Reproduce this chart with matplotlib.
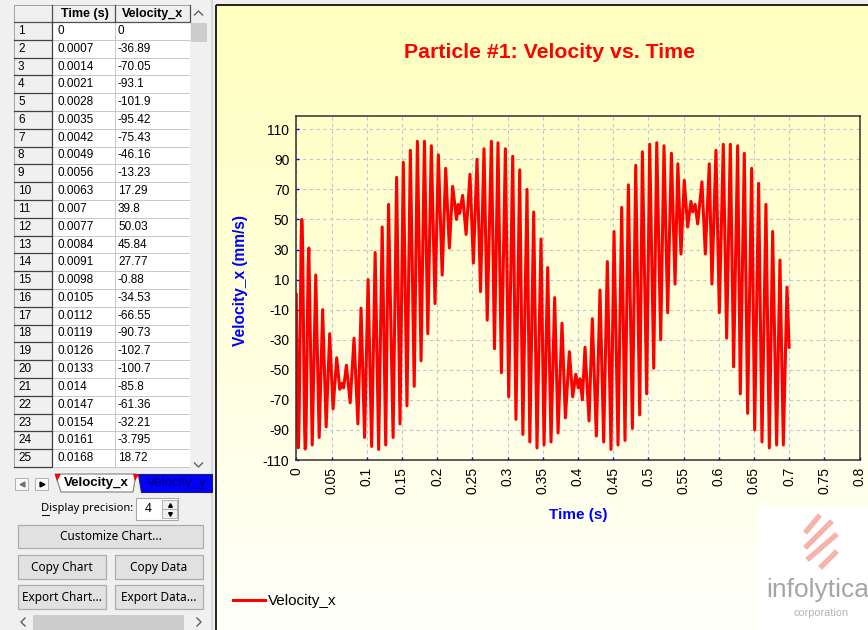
import matplotlib
matplotlib.use('Agg')
import matplotlib.pyplot as plt
from matplotlib.patches import Rectangle, Polygon

# first rows of the data grid (left table)
table_time = [0, 0.0007, 0.0014, 0.0021, 0.0028, 0.0035, 0.0042, 0.0049, 0.0056, 0.0063,
              0.007, 0.0077, 0.0084, 0.0091, 0.0098, 0.0105, 0.0112, 0.0119, 0.0126, 0.0133,
              0.014, 0.0147, 0.0154, 0.0161, 0.0168]
table_vel = [0, -36.89, -70.05, -93.1, -101.9, -95.42, -75.43, -46.16, -13.23, 17.29,
             39.8, 50.03, 45.84, 27.77, -0.88, -34.53, -66.55, -90.73, -102.7, -100.7,
             -85.8, -61.36, -32.21, -3.795, 18.72]

# rest of the trace: turning points
ext_time = [0.0178, 0.0226, 0.0276, 0.0325, 0.0374, 0.0424, 0.0474, 0.0522, 0.0574, 0.0618,
            0.0650, 0.0672, 0.0712, 0.0765, 0.0820, 0.0875, 0.0920, 0.0970, 0.1020, 0.1070,
            0.1120, 0.1170, 0.1220, 0.1270, 0.1310, 0.1375, 0.1425, 0.1473, 0.1520, 0.1572,
            0.1620, 0.1675, 0.1720, 0.1772, 0.1820, 0.1868, 0.1918, 0.1970, 0.2018, 0.2072,
            0.2122, 0.2174, 0.2221, 0.2276, 0.2300, 0.2320, 0.2363, 0.2412, 0.2467, 0.2515,
            0.2567, 0.2617, 0.2666, 0.2712, 0.2771, 0.2815, 0.2865, 0.2913, 0.2970, 0.3017,
            0.3074, 0.3120, 0.3173, 0.3218, 0.3277, 0.3317, 0.3372, 0.3419, 0.3476, 0.3519,
            0.3571, 0.3618, 0.3670, 0.3718, 0.3774, 0.3822, 0.3879, 0.3926, 0.3970, 0.4005,
            0.4030, 0.4063, 0.4101, 0.4158, 0.4205, 0.4262, 0.4314, 0.4366, 0.4418, 0.4470,
            0.4513, 0.4570, 0.4622, 0.4669, 0.4717, 0.4774, 0.4821, 0.4878, 0.4916, 0.4977,
            0.5020, 0.5077, 0.5120, 0.5176, 0.5223, 0.5275, 0.5328, 0.5380, 0.5420, 0.5464,
            0.5511, 0.5559, 0.5606, 0.5630, 0.5665, 0.5701, 0.5762, 0.5810, 0.5866, 0.5904,
            0.5961, 0.6009, 0.6065, 0.6113, 0.6165, 0.6212, 0.6269, 0.6307, 0.6364, 0.6411,
            0.6468, 0.6511, 0.6567, 0.6615, 0.6671, 0.6719, 0.6766, 0.6823, 0.6870, 0.6918,
            0.6970, 0.7000]
ext_vel = [31, -100, 13, -95, -10, -88, -26, -76, -42, -63,
           -59, -62, -47, -72, -29, -86, -9, -95, 10, -101,
           28, -103, 45, -100, 60, -95, 78, -86, 88, -74,
           96, -61, 102, -44, 102, -26, 99, -6, 93, 13,
           84, 31, 72, 50, 60, 54, 66, 40, 80, 21,
           90, 2, 97, -17, 102, -36, 101, -52, 97, -68,
           92, -83, 83, -93, 70, -98, 55, -102, 37, -100,
           18, -98, -2, -92, -19, -82, -38, -68, -53, -62,
           -56, -70, -35, -84, -16, -94, 3, -98, 22, -103,
           42, -100, 58, -97, 73, -89, 86, -80, 95, -66,
           100, -49, 101, -30, 99, -12, 94, 7, 87, 27,
           76, 45, 62, 55, 60, 47, 75, 27, 87, 7,
           96, -12, 100, -29, 100, -48, 99, -66, 94, -79,
           84, -90, 74, -98, 60, -102, 42, -100, 23, -100,
           5, -35]

x_ticks = [0, 0.05, 0.1, 0.15, 0.2, 0.25, 0.3, 0.35, 0.4, 0.45, 0.5, 0.55, 0.6, 0.65, 0.7, 0.75, 0.8]
y_ticks = [-110, -90, -70, -50, -30, -10, 10, 30, 50, 70, 90, 110]

buttons = [("Customize Chart...", 18, 525, 203, 548),
           ("Copy Chart", 18, 555, 106, 579), ("Copy Data", 115, 555, 203, 579),
           ("Export Chart...", 18, 585, 106, 609), ("Export Data...", 115, 585, 203, 609)]

time = table_time + ext_time
vel = table_vel + ext_vel

W, H = 868, 630
fig = plt.figure(figsize=(W / 100, H / 100), dpi=100)
fig.patch.set_facecolor('#f0f0f0')

# whole window drawn in pixel coordinates
ui = fig.add_axes([0, 0, 1, 1], zorder=0)
ui.set_xlim(0, W)
ui.set_ylim(H, 0)
ui.axis('off')

# chart panel: yellow gradient with a black frame
grad = [[(1.0, 1.0, 0.75 + 0.23 * i / 99)] for i in range(100)]
ui.imshow(grad, extent=[216, W, H, 5], aspect='auto', zorder=0, interpolation='bilinear')
ui.add_patch(Rectangle((216, 5), W - 214, H, fill=False, ec='black', lw=1.2, zorder=1))

# ---- left panel: data grid ----
ui_font = 'Liberation Sans'
row_h = 17.8
top = 22
ui.add_patch(Rectangle((14, 5), 176, top - 5, fc='#f0f0f0', ec='#a0a0a0', lw=0.7, zorder=2))
for x0, x1 in [(14, 52), (52, 115), (115, 190)]:
    ui.add_patch(Rectangle((x0, 5), x1 - x0, top - 5, fc='#f0f0f0', ec='#a0a0a0', lw=0.7, zorder=2))
    ui.plot([x0, x1, x1], [top, top, 5], color='#505050', lw=0.9, zorder=3)
ui.text(84.5, 13.5, 'Time (s)', family=ui_font, weight='bold', size=9.0, ha='center', va='center', zorder=4)
ui.text(153, 13.5, 'Velocity_x', family=ui_font, weight='bold', size=9.0, ha='center', va='center', zorder=4)

for i, (tv, vv) in enumerate(zip(table_time, table_vel)):
    y0 = top + i * row_h
    ui.add_patch(Rectangle((14, y0), 38, row_h, fc='#f0f0f0', ec='#a0a0a0', lw=0.7, zorder=2))
    ui.plot([14, 52, 52], [y0 + row_h, y0 + row_h, y0], color='#404040', lw=0.9, zorder=3)
    ui.add_patch(Rectangle((52, y0), 63, row_h, fc='white', ec='#c8c8c8', lw=0.7, zorder=2))
    ui.add_patch(Rectangle((115, y0), 75, row_h, fc='white', ec='#c8c8c8', lw=0.7, zorder=2))
    yc = y0 + row_h / 2
    ui.text(18, yc, str(i + 1), family=ui_font, size=8.5, va='center', zorder=4)
    ui.text(57, yc, f"{tv:.4g}", family=ui_font, size=8.5, va='center', zorder=4)
    ui.text(118, yc, f"{vv:.4g}", family=ui_font, size=8.5, va='center', zorder=4)

# vertical scrollbar of the grid
ui.add_patch(Rectangle((190, 5), 20, 465, fc='#f0f0f0', ec='none', zorder=2))
ui.add_patch(Rectangle((191, 23), 16, 19, fc='#cdcdcd', ec='none', zorder=3))
ui.plot([194.5, 198.5, 202.5], [15, 11, 15], color='#606060', lw=1, zorder=3)
ui.plot([194.5, 198.5, 202.5], [463, 467, 463], color='#606060', lw=1, zorder=3)
ui.plot([211.5, 211.5], [0, H], color='#d8d8d8', lw=1.5, zorder=1)

# sheet tabs
ui.add_patch(Rectangle((15, 478), 13, 12, fc='#f8f8f8', ec='#b0b0b0', lw=0.7, zorder=2))
ui.add_patch(Rectangle((35, 478), 13, 12, fc='#f8f8f8', ec='#b0b0b0', lw=0.7, zorder=2))
ui.plot([21.5], [484], marker='<', ms=3.5, color='#707070', zorder=3)
ui.plot([41.5], [484], marker='>', ms=3.5, color='black', zorder=3)
ui.add_patch(Polygon([(55, 474), (136, 474), (133, 492), (61, 492)], closed=True,
                     fc='#fbfbfb', ec='#808080', lw=0.8, zorder=2))
ui.add_patch(Polygon([(55, 474), (61, 474), (57, 481)], closed=True, fc='red', ec='none', zorder=3))
ui.add_patch(Polygon([(138, 474), (212, 474), (212, 492), (141, 492)], closed=True,
                     fc='#0000ff', ec='#202060', lw=0.8, zorder=2))
ui.add_patch(Polygon([(133, 474), (139, 474), (135, 481)], closed=True, fc='red', ec='none', zorder=3))
ui.text(96, 483, 'Velocity_x', family=ui_font, weight='bold', size=9.5, ha='center', va='center', zorder=4)
ui.text(147, 483, 'Velocity_y', family=ui_font, size=9.5, color='#000066', va='center', zorder=4,
        clip_on=True)

# display precision spinner
btn_font = 'Noto Sans'
ui.text(41, 508, 'Display precision:', family=btn_font, size=8.0, va='center', zorder=4)
ui.plot([41.5, 48.5], [514.5, 514.5], color='black', lw=0.7, zorder=4)
ui.add_patch(Rectangle((136, 498), 42, 22, fc='white', ec='#a8a8a8', lw=0.8, zorder=2))
ui.text(145, 509, '4', family=btn_font, size=8.6, va='center', zorder=4)
ui.add_patch(Rectangle((162, 500), 15, 9, fc='#f0f0f0', ec='#a8a8a8', lw=0.6, zorder=3))
ui.add_patch(Rectangle((162, 509), 15, 9, fc='#f0f0f0', ec='#a8a8a8', lw=0.6, zorder=3))
ui.plot([169.5], [504.5], marker='^', ms=2.6, color='black', zorder=4)
ui.plot([169.5], [513.5], marker='v', ms=2.6, color='black', zorder=4)

for label, x0, y0, x1, y1 in buttons:
    ui.add_patch(Rectangle((x0, y0), x1 - x0, y1 - y0, fc='#e1e1e1', ec='#adadad', lw=0.9, zorder=2))
    ui.text((x0 + x1) / 2, (y0 + y1) / 2, label, family=btn_font, size=8.5,
            ha='center', va='center', zorder=4)

# horizontal scrollbar at the bottom
ui.add_patch(Rectangle((14, 614), 197, 16, fc='#f0f0f0', ec='none', zorder=2))
ui.add_patch(Rectangle((33, 615), 151, 15, fc='#cdcdcd', ec='none', zorder=3))
ui.plot([25, 21, 25], [618, 622, 626], color='#606060', lw=1, zorder=3)
ui.plot([197, 201, 197], [618, 622, 626], color='#606060', lw=1, zorder=3)

# infolytica logo
ui.add_patch(Rectangle((758, 507), W - 758, H - 507, fc='white', ec='none', zorder=2))
for (xa, ya), (xb, yb) in [((805, 533), (820, 515)), ((805, 548), (832, 521)),
                           ((807, 560), (837, 534)), ((820, 568), (837, 551))]:
    ui.plot([xa, xb], [ya, yb], color='#f6b3aa', lw=3.8, solid_capstyle='butt', zorder=3)
ui.text(766, 590, 'infolytica', family=ui_font, size=19, color='#a6a6a6', va='center', zorder=4)
ui.text(821, 613, 'corporation', family=ui_font, size=7.8, color='#b4b4b4', ha='center',
        va='center', zorder=4)

# ---- the chart ----
x0_px, x1_px, y0_px, y1_px = 296.3, 859.5, 116, 460
ax = fig.add_axes([x0_px / W, 1 - y1_px / H, (x1_px - x0_px) / W, (y1_px - y0_px) / H], zorder=2)
ax.patch.set_alpha(0)
line, = ax.plot(time, vel, color='#ff0000', lw=2.2, solid_joinstyle='round')
ax.set_xlim(0, 0.8)
ax.set_ylim(-110, 118.8)
ax.set_xticks(x_ticks)
ax.set_xticklabels([f"{v:g}" for v in x_ticks], rotation=90, family='Liberation Sans')
ax.set_yticks(y_ticks)
ax.set_yticklabels([str(v) for v in y_ticks], family='Liberation Sans')
ax.tick_params(direction='in', length=2, width=1, color='#0000ff', labelsize=10, pad=5)
ax.grid(True, color='#c4c4d4', linestyle=(0, (3, 3)), lw=0.8)
for s in ax.spines.values():
    s.set_color('#303030')
    s.set_linewidth(1.1)
ax.set_xlabel('Time (s)', family='Liberation Sans', weight='bold', size=11, color='#0000ff', labelpad=10)
ax.set_ylabel('Velocity_x (mm/s)', family='Liberation Sans', weight='bold', size=11.2, color='#0000ff')
ax.yaxis.set_label_coords(-0.085, 0.523)

fig.text(549 / W, 1 - 52 / H, 'Particle #1: Velocity vs. Time', family='Liberation Sans', weight='bold',
         size=15.3, color='#ff0000', ha='center', va='center')

fig.legend([line], ['Velocity_x'], loc='center left', bbox_to_anchor=(233 / W, 1 - 601 / H),
           frameon=False, handlelength=2.1, handletextpad=0.2, borderpad=0, borderaxespad=0,
           prop=dict(family='Liberation Sans', size=11))

fig.savefig('out.png', dpi=100)
